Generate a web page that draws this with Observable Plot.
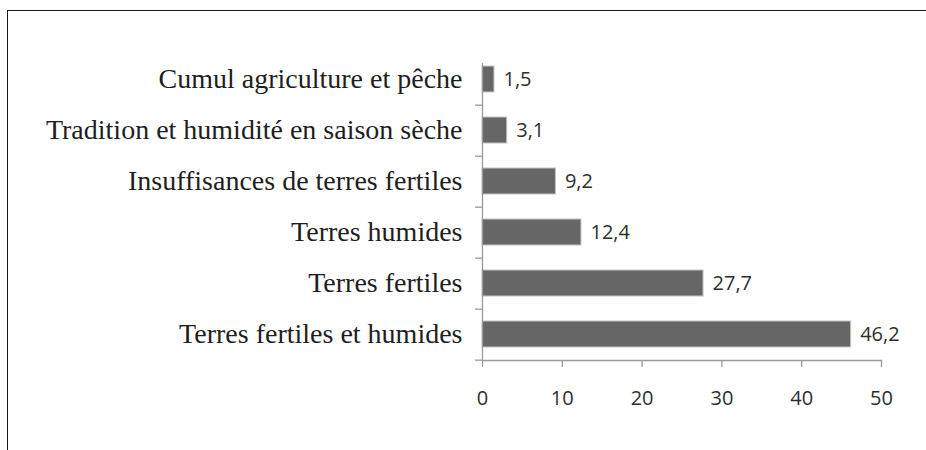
<!DOCTYPE html>
<html>
<head>
<meta charset="utf-8">
<script src="https://cdn.jsdelivr.net/npm/d3@7"></script>
<script src="https://cdn.jsdelivr.net/npm/@observablehq/plot@0.6"></script>
<style>
  html, body { margin: 0; padding: 0; background: #fff; }
  #wrap { position: relative; width: 926px; height: 450px; overflow: hidden; }
  #border { position: absolute; left: 7px; top: 10px; right: -4px; bottom: -4px;
            border-top: 1.5px solid #1a1a1a; border-left: 1.5px solid #1a1a1a; pointer-events: none; }
  #chart svg { display: block; }
</style>
</head>
<body>
<div id="wrap"><div id="chart"></div><div id="border"></div></div>
<script>
const categories = [
  "Cumul agriculture et pêche",
  "Tradition et humidité en saison sèche",
  "Insuffisances de terres fertiles",
  "Terres humides",
  "Terres fertiles",
  "Terres fertiles et humides"
];
const values = [1.5, 3.1, 9.2, 12.4, 27.7, 46.2];
const xTicks = [0, 10, 20, 30, 40, 50];

const data = categories.map((c, i) => ({category: c, value: values[i]}));

const W = 926, H = 450, mTop = 52, mBottom = 90, mLeft = 482, mRight = 45;
const step = (H - mTop - mBottom) / categories.length;
const axisGray = "#9a9a9a";
const sansFont = "'Open Sans', 'Liberation Sans', sans-serif";

const chart = Plot.plot({
  width: W,
  height: H,
  marginTop: mTop,
  marginBottom: mBottom,
  marginLeft: mLeft,
  marginRight: mRight,
  style: {background: "transparent", overflow: "visible"},
  x: {domain: [0, 50], label: null},
  y: {domain: categories, paddingInner: 0.5, paddingOuter: 0.25, label: null},
  marks: [
    Plot.barX(data, {y: "category", x: "value", fill: "#666666", stroke: "#c4c4c4", strokeWidth: 1}),
    Plot.ruleX([0], {stroke: axisGray, strokeWidth: 1.3, insetTop: 11}),
    Plot.frame({anchor: "bottom", stroke: axisGray, strokeWidth: 1.3}),
    Plot.axisX({ticks: xTicks, tickSize: 7, tickPadding: 23, stroke: axisGray, strokeWidth: 1.3,
      fill: "#2e2e2e", fontSize: 20, fontFamily: sansFont, tickFormat: d => String(d), label: null}),
    Plot.axisY({tickSize: 7, text: null, dy: step / 2, stroke: axisGray, strokeWidth: 1.3, label: null}),
    Plot.axisY({tickSize: 0, tickPadding: 20, fill: "#1e1e1e", fontSize: 28,
      fontFamily: "'Liberation Serif', 'Times New Roman', serif", label: null}),
    Plot.text(data, {y: "category", x: "value", text: d => d.value.toFixed(1).replace(".", ","),
      textAnchor: "start", dx: 9, fill: "#2e2e2e", fontSize: 20, fontFamily: sansFont})
  ]
});
document.getElementById("chart").appendChild(chart);
</script>
</body>
</html>
